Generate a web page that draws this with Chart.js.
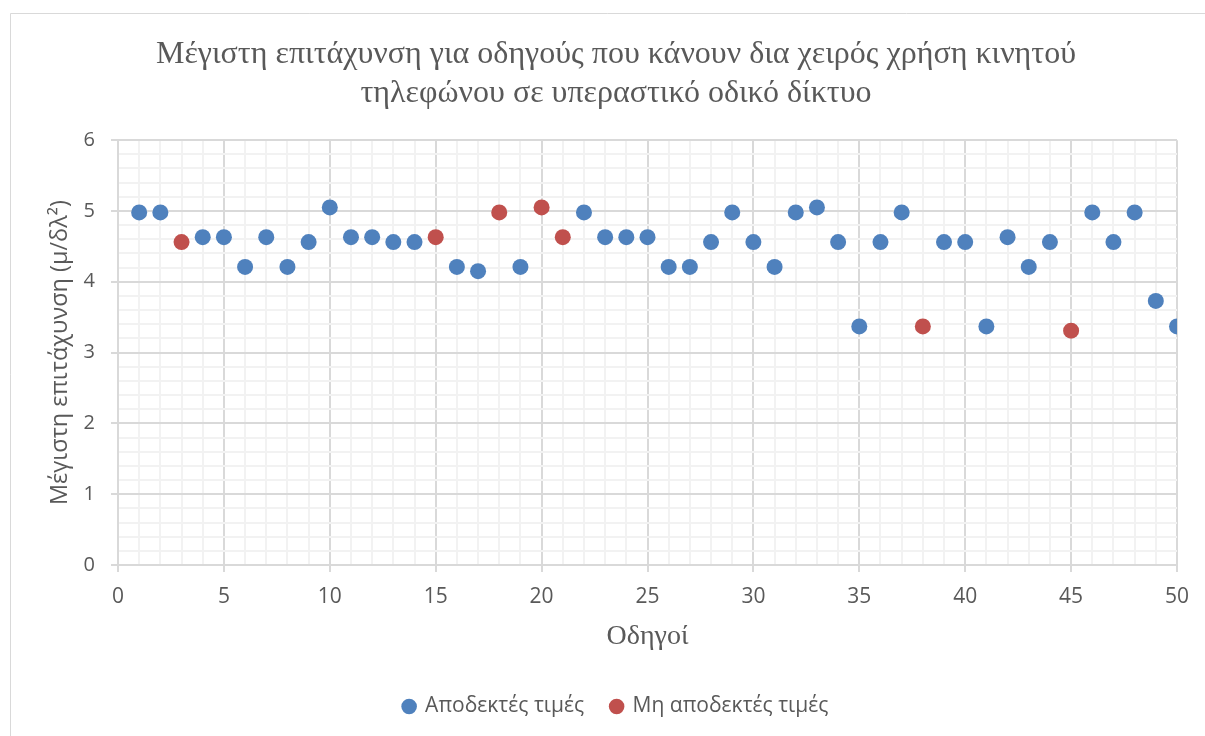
<!DOCTYPE html>
<html lang="el">
<head>
<meta charset="utf-8">
<title>Μέγιστη επιτάχυνση</title>
<script src="https://cdn.jsdelivr.net/npm/chart.js@4.4.1/dist/chart.umd.min.js"></script>
<style>
  html, body { margin: 0; padding: 0; background: #ffffff; }
  #wrap { position: relative; width: 1205px; height: 736px; }
</style>
</head>
<body>
<div id="wrap"><canvas id="chart" width="1205" height="736"></canvas></div>
<script>
// Driver index (x) and maximum acceleration in m/s² (y)
const drivers = [
  1, 2, 3, 4, 5, 6, 7, 8, 9, 10,
  11, 12, 13, 14, 15, 16, 17, 18, 19, 20,
  21, 22, 23, 24, 25, 26, 27, 28, 29, 30,
  31, 32, 33, 34, 35, 36, 37, 38, 39, 40,
  41, 42, 43, 44, 45, 46, 47, 48, 49, 50
];
const maxAcceleration = [
  4.98, 4.98, 4.56, 4.63, 4.63, 4.21, 4.63, 4.21, 4.56, 5.05,
  4.63, 4.63, 4.56, 4.56, 4.63, 4.21, 4.15, 4.98, 4.21, 5.05,
  4.63, 4.98, 4.63, 4.63, 4.63, 4.21, 4.21, 4.56, 4.98, 4.56,
  4.21, 4.98, 5.05, 4.56, 3.37, 4.56, 4.98, 3.37, 4.56, 4.56,
  3.37, 4.63, 4.21, 4.56, 3.31, 4.98, 4.56, 4.98, 3.73, 3.37
];
// Drivers whose values are not accepted
const rejectedDrivers = [3, 15, 18, 20, 21, 38, 45];

const seriesNames = ['Αποδεκτές τιμές', 'Μη αποδεκτές τιμές'];
const titleLines = [
  'Μέγιστη επιτάχυνση για οδηγούς που κάνουν δια χειρός χρήση κινητού',
  'τηλεφώνου σε υπεραστικό οδικό δίκτυο'
];
const xAxisTitle = 'Οδηγοί';
const yAxisTitle = 'Μέγιστη επιτάχυνση (μ/δλ²)';

const accepted = [];
const rejected = [];
drivers.forEach((d, i) => {
  const p = { x: d, y: maxAcceleration[i] };
  (rejectedDrivers.includes(d) ? rejected : accepted).push(p);
});

const MAJOR = '#d9d9d9';
const MINOR = '#f2f2f2';
const TEXT = '#595959';
const SANS = '"Open Sans", "Noto Sans", sans-serif';
const SERIF = '"Liberation Serif", "DejaVu Serif", serif';

const isWhole = (v, step) => Math.abs(v / step - Math.round(v / step)) < 1e-6;

// Outer frame of the chart box
const framePlugin = {
  id: 'frame',
  beforeDraw(chart) {
    const ctx = chart.ctx;
    ctx.save();
    ctx.fillStyle = '#ffffff';
    ctx.fillRect(0, 0, chart.width, chart.height);
    ctx.strokeStyle = '#d9d9d9';
    ctx.lineWidth = 1;
    ctx.beginPath();
    ctx.moveTo(10.5, chart.height);
    ctx.lineTo(10.5, 13.5);
    ctx.lineTo(chart.width, 13.5);
    ctx.stroke();
    ctx.restore();
  }
};

new Chart(document.getElementById('chart'), {
  type: 'scatter',
  data: {
    datasets: [
      {
        label: seriesNames[0],
        data: accepted,
        backgroundColor: '#4f81bd',
        borderColor: '#4f81bd',
        pointRadius: 8,
        pointHoverRadius: 8,
        borderWidth: 0
      },
      {
        label: seriesNames[1],
        data: rejected,
        backgroundColor: '#c0504d',
        borderColor: '#c0504d',
        pointRadius: 8,
        pointHoverRadius: 8,
        borderWidth: 0
      }
    ]
  },
  options: {
    responsive: false,
    animation: false,
    layout: { padding: { left: 27, right: 0, top: 0, bottom: 9 } },
    plugins: {
      title: {
        display: true,
        text: titleLines,
        color: TEXT,
        font: { family: SERIF, size: 32, weight: 'normal', lineHeight: 1.19 },
        padding: { top: 36, bottom: 28 }
      },
      legend: {
        position: 'bottom',
        labels: {
          color: TEXT,
          font: { family: SANS, size: 21 },
          usePointStyle: true,
          pointStyle: 'circle',
          boxWidth: 11,
          boxHeight: 11,
          padding: 27
        }
      },
      tooltip: { enabled: false }
    },
    scales: {
      x: {
        type: 'linear',
        min: 0,
        max: 50,
        ticks: {
          stepSize: 1,
          autoSkip: false,
          maxRotation: 0,
          color: TEXT,
          font: { family: SANS, size: 21 },
          padding: 12,
          callback: v => isWhole(v, 5) ? String(v) : ''
        },
        grid: {
          color: ctx => isWhole(ctx.tick.value, 5) ? MAJOR : MINOR,
          tickColor: ctx => isWhole(ctx.tick.value, 5) ? MAJOR : 'rgba(0,0,0,0)',
          tickLength: 7,
          lineWidth: 2
        },
        border: { color: MAJOR, width: 2 },
        title: {
          display: true,
          text: xAxisTitle,
          color: TEXT,
          font: { family: SERIF, size: 28 },
          padding: { top: 8, bottom: 16 }
        },
        afterFit: s => { s.height = 104; }
      },
      y: {
        type: 'linear',
        min: 0,
        max: 6,
        ticks: {
          stepSize: 0.2,
          autoSkip: false,
          color: TEXT,
          font: { family: SANS, size: 20 },
          padding: 16,
          callback: v => isWhole(v, 1) ? String(Math.round(v)) : ''
        },
        grid: {
          color: ctx => isWhole(ctx.tick.value, 1) ? MAJOR : MINOR,
          tickColor: ctx => isWhole(ctx.tick.value, 1) ? MAJOR : 'rgba(0,0,0,0)',
          tickLength: 7,
          lineWidth: 2
        },
        border: { color: MAJOR, width: 2 },
        title: {
          display: true,
          text: yAxisTitle,
          color: TEXT,
          font: { family: SANS, size: 23.5 },
          padding: { top: 19, bottom: 0 }
        },
        afterFit: s => { s.width = 91; }
      },
      yRight: {
        type: 'linear',
        position: 'right',
        display: true,
        ticks: { display: false },
        grid: { display: false, drawTicks: false },
        border: { display: false },
        afterFit: s => { s.width = 28; }
      }
    }
  },
  plugins: [framePlugin]
});
</script>
</body>
</html>
